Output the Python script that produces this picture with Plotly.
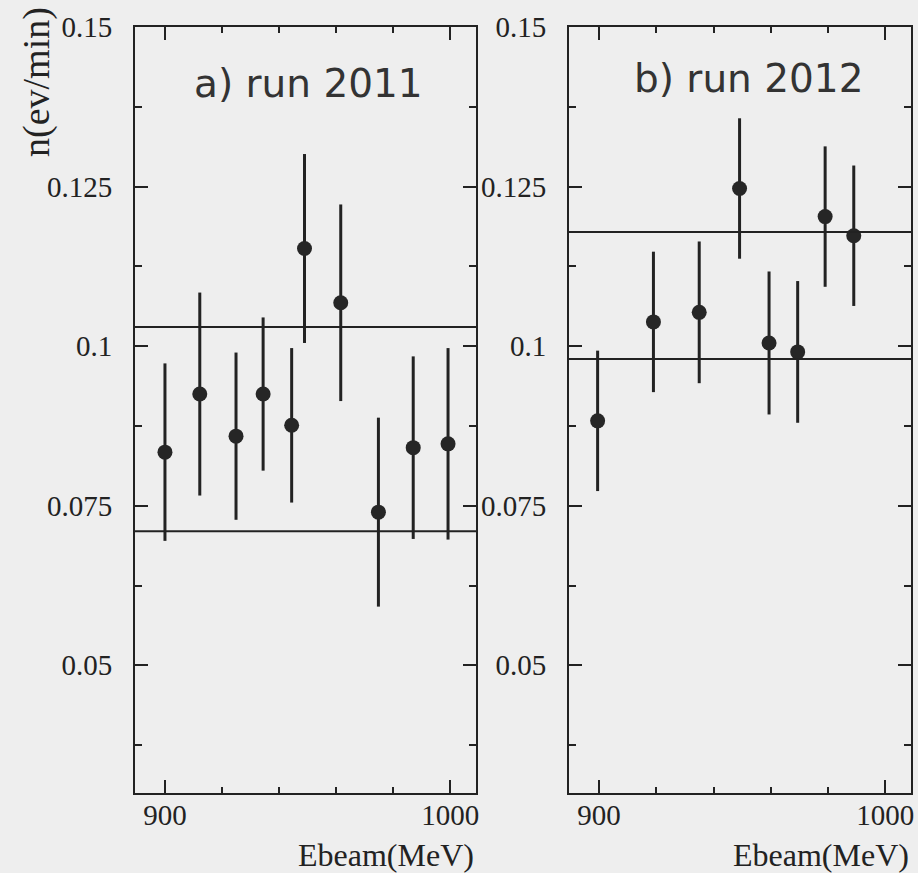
import plotly.graph_objects as go

# ---- data ----
ebeam_2011 = [900.0, 912.2, 924.9, 934.4, 944.4, 948.9, 961.6, 974.8, 987.0, 999.2]
rate_2011 = [0.0834, 0.0925, 0.0859, 0.0925, 0.0876, 0.1153, 0.1068, 0.0740, 0.0841, 0.0847]
err_2011 = [0.0139, 0.0159, 0.0131, 0.0120, 0.0121, 0.0148, 0.0154, 0.0148, 0.0143, 0.0150]
lines_2011 = [0.103, 0.071]

ebeam_2012 = [899.5, 919.0, 935.0, 949.1, 959.4, 969.4, 979.0, 989.0]
rate_2012 = [0.0883, 0.1038, 0.1053, 0.1247, 0.1005, 0.0991, 0.1203, 0.1173]
err_2012 = [0.0110, 0.0110, 0.0111, 0.0110, 0.0112, 0.0111, 0.0110, 0.0110]
lines_2012 = [0.1179, 0.0980]

panel_labels = ["a) run 2011", "b) run 2012"]
y_tickvals = [0.05, 0.075, 0.1, 0.125, 0.15]
y_ticktext = ["0.05", "0.075", "0.1", "0.125", "0.15"]
y_minor = [0.0375, 0.0625, 0.0875, 0.1125, 0.1375]
x_tickvals = [900, 1000]
x_ticktext = ["900", "1000"]
x_minor = [920, 940, 960, 980]
x_range = [889.5, 1009.0]
y_range = [0.03, 0.15]

INK = "#222222"
BG = "#eeeeee"
W, H = 918, 873

fig = go.Figure()

for i, (xs, ys, es) in enumerate([(ebeam_2011, rate_2011, err_2011),
                                   (ebeam_2012, rate_2012, err_2012)]):
    sfx = "" if i == 0 else "2"
    fig.add_trace(go.Scatter(
        x=xs, y=ys, mode="markers",
        marker=dict(size=15, color="#262626", line=dict(width=0)),
        error_y=dict(type="data", array=es, visible=True, color=INK,
                     thickness=3, width=0),
        xaxis="x" + sfx, yaxis="y" + sfx, showlegend=False,
    ))

for i, vals in enumerate([lines_2011, lines_2012]):
    sfx = "" if i == 0 else "2"
    for v in vals:
        fig.add_shape(type="line", xref="x" + sfx + " domain", yref="y" + sfx,
                      x0=0, x1=1, y0=v, y1=v,
                      line=dict(color=INK, width=2))

dom_x = [[135 / W, 476 / W], [569 / W, 911 / W]]
dom_y = [1 - 793 / H, 1 - 27 / H]

tickfont = dict(family="Liberation Serif", size=29, color=INK)

for i in range(2):
    sfx = "" if i == 0 else "2"
    fig.layout["xaxis" + sfx] = dict(
        domain=dom_x[i], range=x_range, anchor="y" + sfx,
        tickmode="array", tickvals=x_tickvals, ticktext=x_ticktext,
        ticks="inside", ticklen=13, tickwidth=2, tickcolor=INK,
        minor=dict(tickmode="array", tickvals=x_minor, ticks="inside",
                   ticklen=6, tickwidth=2, tickcolor=INK),
        showline=True, linecolor=INK, linewidth=2, mirror="ticks",
        showgrid=False, zeroline=False, tickfont=tickfont,
        ticklabelstandoff=-5, automargin=False,
        fixedrange=True,
    )
    fig.layout["yaxis" + sfx] = dict(
        domain=dom_y, range=y_range, anchor="x" + sfx,
        tickmode="array", tickvals=y_tickvals, ticktext=y_ticktext,
        ticks="inside", ticklen=13, tickwidth=2, tickcolor=INK,
        minor=dict(tickmode="array", tickvals=y_minor, ticks="inside",
                   ticklen=7, tickwidth=2, tickcolor=INK),
        showline=True, linecolor=INK, linewidth=2, mirror="ticks",
        showgrid=False, zeroline=False, tickfont=tickfont,
        ticklabelstandoff=15, automargin=False,
        fixedrange=True,
    )

annos = []
for i, lab in enumerate(panel_labels):
    sfx = "" if i == 0 else "2"
    annos.append(dict(text=lab, xref="x" + sfx + " domain", yref="paper",
                      x=0.51 if i == 0 else 0.525, y=1 - (83 if i == 0 else 78) / H,
                      xanchor="center", yanchor="middle", showarrow=False,
                      font=dict(family="DejaVu Sans", size=39, color="#333333")))
    annos.append(dict(text="Ebeam(MeV)", xref="x" + sfx + " domain", yref="paper",
                      x=1.0, y=1 - 855 / H, xanchor="right", yanchor="middle",
                      showarrow=False,
                      font=dict(family="Liberation Serif", size=32, color=INK)))
annos.append(dict(text="n(ev/min)", xref="paper", yref="paper",
                  x=37 / W, y=1 - 5 / H, xanchor="center", yanchor="top",
                  textangle=-90, showarrow=False,
                  font=dict(family="Liberation Serif", size=38, color=INK)))

fig.update_layout(
    width=W, height=H,
    margin=dict(l=0, r=0, t=0, b=0),
    paper_bgcolor=BG, plot_bgcolor=BG,
    annotations=annos,
    showlegend=False,
)

fig.write_html("out.html", config={"displayModeBar": False})
